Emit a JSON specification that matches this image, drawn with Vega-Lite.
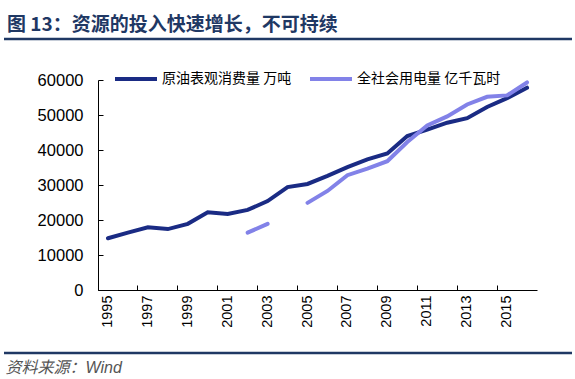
{
  "$schema": "https://vega.github.io/schema/vega-lite/v6.json",
  "width": 439,
  "height": 210,
  "autosize": "none",
  "padding": {"left": 98, "top": 80, "right": 38, "bottom": 89},
  "background": "white",
  "title": {
    "text": "图 13：资源的投入快速增长，不可持续",
    "anchor": "start",
    "frame": "group",
    "dx": -91,
    "offset": 3,
    "font": "Noto Sans CJK SC",
    "fontSize": 19,
    "fontWeight": "bold",
    "color": "#1f3864"
  },
  "config": {"view": {"stroke": null}},
  "layer": [
    {
      "data": {"values": [{}]},
      "mark": {"type": "rule", "color": "#1f3864", "strokeWidth": 2.5},
      "encoding": {"x": {"value": -94}, "x2": {"value": 474}, "y": {"value": -41}}
    },
    {
      "data": {"values": [{}]},
      "mark": {"type": "rule", "color": "#1f3864", "strokeWidth": 2.5},
      "encoding": {"x": {"value": -94}, "x2": {"value": 474}, "y": {"value": 273}}
    },
    {
      "data": {
        "values": [
          {"year": 1995, "series": "原油表观消费量 万吨", "value": 14800},
          {"year": 1996, "series": "原油表观消费量 万吨", "value": 16400},
          {"year": 1997, "series": "原油表观消费量 万吨", "value": 17900},
          {"year": 1998, "series": "原油表观消费量 万吨", "value": 17400},
          {"year": 1999, "series": "原油表观消费量 万吨", "value": 18900},
          {"year": 2000, "series": "原油表观消费量 万吨", "value": 22200},
          {"year": 2001, "series": "原油表观消费量 万吨", "value": 21700},
          {"year": 2002, "series": "原油表观消费量 万吨", "value": 22900},
          {"year": 2003, "series": "原油表观消费量 万吨", "value": 25400},
          {"year": 2004, "series": "原油表观消费量 万吨", "value": 29400},
          {"year": 2005, "series": "原油表观消费量 万吨", "value": 30300},
          {"year": 2006, "series": "原油表观消费量 万吨", "value": 32600},
          {"year": 2007, "series": "原油表观消费量 万吨", "value": 35100},
          {"year": 2008, "series": "原油表观消费量 万吨", "value": 37300},
          {"year": 2009, "series": "原油表观消费量 万吨", "value": 39000},
          {"year": 2010, "series": "原油表观消费量 万吨", "value": 44000},
          {"year": 2011, "series": "原油表观消费量 万吨", "value": 45800},
          {"year": 2012, "series": "原油表观消费量 万吨", "value": 47800},
          {"year": 2013, "series": "原油表观消费量 万吨", "value": 49100},
          {"year": 2014, "series": "原油表观消费量 万吨", "value": 52300},
          {"year": 2015, "series": "原油表观消费量 万吨", "value": 54800},
          {"year": 2016, "series": "原油表观消费量 万吨", "value": 57800},
          {"year": 2002, "series": "全社会用电量 亿千瓦时", "value": 16400},
          {"year": 2003, "series": "全社会用电量 亿千瓦时", "value": 18900},
          {"year": 2004, "series": "全社会用电量 亿千瓦时", "value": null},
          {"year": 2005, "series": "全社会用电量 亿千瓦时", "value": 24900},
          {"year": 2006, "series": "全社会用电量 亿千瓦时", "value": 28300},
          {"year": 2007, "series": "全社会用电量 亿千瓦时", "value": 32800},
          {"year": 2008, "series": "全社会用电量 亿千瓦时", "value": 34700},
          {"year": 2009, "series": "全社会用电量 亿千瓦时", "value": 36800},
          {"year": 2010, "series": "全社会用电量 亿千瓦时", "value": 42300},
          {"year": 2011, "series": "全社会用电量 亿千瓦时", "value": 47000},
          {"year": 2012, "series": "全社会用电量 亿千瓦时", "value": 49600},
          {"year": 2013, "series": "全社会用电量 亿千瓦时", "value": 53000},
          {"year": 2014, "series": "全社会用电量 亿千瓦时", "value": 55200},
          {"year": 2015, "series": "全社会用电量 亿千瓦时", "value": 55600},
          {"year": 2016, "series": "全社会用电量 亿千瓦时", "value": 59300}
        ]
      },
      "mark": {"type": "line", "strokeWidth": 4, "strokeCap": "round", "invalid": "break-paths-show-domains"},
      "encoding": {
        "x": {
          "field": "year",
          "type": "ordinal",
          "scale": {"type": "band", "paddingInner": 0, "paddingOuter": 0},
          "axis": {
            "values": [1995, 1997, 1999, 2001, 2003, 2005, 2007, 2009, 2011, 2013, 2015],
            "labelAngle": -90,
            "bandPosition": 0,
            "tickSize": -5,
            "labelPadding": 10,
            "domainColor": "black",
            "tickColor": "black",
            "labelColor": "black",
            "labelFont": "Liberation Sans",
            "labelFontSize": 14.5,
            "title": "资料来源：Wind",
            "titleX": -93,
            "titleY": 77,
            "titleAlign": "left",
            "titleBaseline": "middle",
            "titleAngle": 0,
            "titleFont": "Liberation Sans, Noto Sans CJK SC",
            "titleFontSize": 16,
            "titleFontStyle": "italic",
            "titleFontWeight": "normal",
            "titleColor": "#555555"
          }
        },
        "y": {
          "field": "value",
          "type": "quantitative",
          "scale": {"domain": [0, 60000], "nice": false},
          "axis": {
            "values": [0, 10000, 20000, 30000, 40000, 50000, 60000],
            "format": "d",
            "title": null,
            "grid": false,
            "tickSize": -5,
            "labelPadding": 20,
            "domainColor": "black",
            "tickColor": "black",
            "labelColor": "black",
            "labelFont": "Liberation Sans",
            "labelFontSize": 16.5
          }
        },
        "color": {
          "field": "series",
          "type": "nominal",
          "scale": {
            "domain": ["原油表观消费量 万吨", "全社会用电量 亿千瓦时"],
            "range": ["#1a2b84", "#8282e8"]
          },
          "legend": {
            "orient": "none",
            "legendX": 15,
            "legendY": -24,
            "direction": "horizontal",
            "title": null,
            "padding": 0,
            "symbolType": "stroke",
            "symbolSize": 1764,
            "symbolStrokeWidth": 4,
            "labelFont": "Noto Sans CJK SC",
            "labelFontSize": 14,
            "labelColor": "black",
            "labelOffset": 3,
            "columnPadding": 10,
            "labelLimit": 300
          }
        }
      }
    }
  ]
}
